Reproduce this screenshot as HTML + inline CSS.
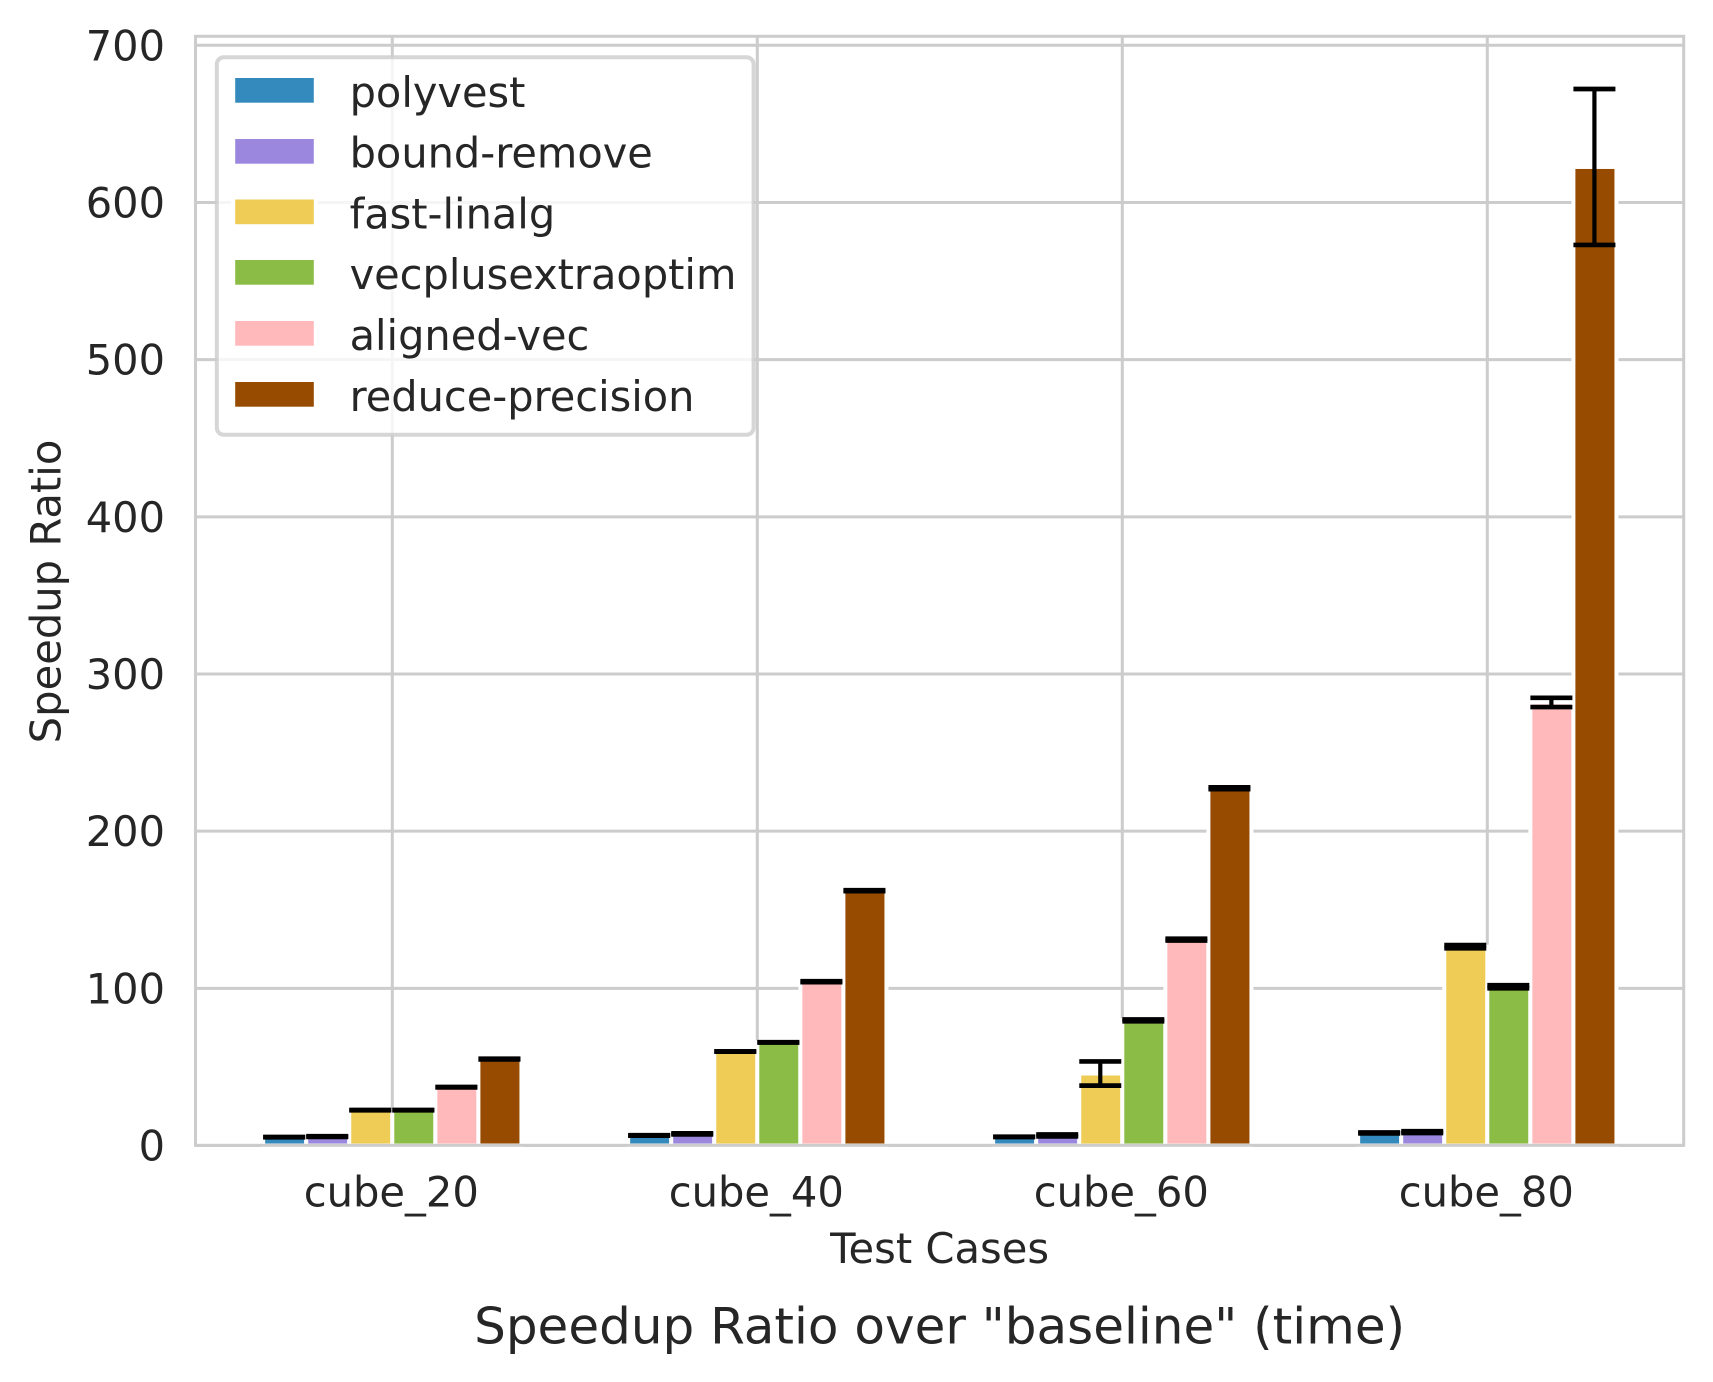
<!DOCTYPE html>
<html lang="en">
<head>
<meta charset="utf-8">
<title>Speedup Ratio over "baseline" (time)</title>
<style>
html,body{margin:0;padding:0;background:#fff;}
svg{display:block;}
text{font-family:"DejaVu Sans","Liberation Sans",sans-serif;fill:#262626;}
</style>
</head>
<body>
<svg id="chart" xmlns="http://www.w3.org/2000/svg" width="1713" height="1382" viewBox="0 0 1713 1382">
  <rect x="0" y="0" width="1713" height="1382" fill="#fff"/>
  <g id="grid"></g>
  <g id="bars"></g>
  <g id="errors"></g>
  <g id="spines" stroke="#cccccc" stroke-width="3" fill="none">
    <rect x="195.5" y="36.3" width="1488.2" height="1109"/>
  </g>
  <g id="yticks"></g>
  <g id="xticks"></g>

  <text transform="translate(60.7,591.5) rotate(-90)" text-anchor="middle" font-size="41.67">Speedup Ratio</text>
  <text x="939.6" y="1263.2" text-anchor="middle" font-size="41.67">Test Cases</text>
  <text x="939.6" y="1343.5" text-anchor="middle" font-size="50">Speedup Ratio over "baseline" (time)</text>

  <g>
    <rect x="216.8" y="57.3" width="536.8" height="377.4" rx="7" ry="7" fill="#fff" fill-opacity="0.8" stroke="#cccccc" stroke-opacity="0.8" stroke-width="4"/>
    <g>
      <rect x="233.2" y="76" width="82.6" height="28.7" fill="#348ABD" stroke="#fff" stroke-width="4"/>
      <text x="349.6" y="107" font-size="41.5">polyvest</text>
    </g>
    <g>
      <rect x="233.2" y="137" width="82.6" height="28.7" fill="#9B88DE" stroke="#fff" stroke-width="4"/>
      <text x="349.6" y="167.3" font-size="41.5">bound-remove</text>
    </g>
    <g>
      <rect x="233.2" y="197.5" width="82.6" height="28.7" fill="#EECC55" stroke="#fff" stroke-width="4"/>
      <text x="349.6" y="228.3" font-size="41.5">fast-linalg</text>
    </g>
    <g>
      <rect x="233.2" y="258" width="82.6" height="28.7" fill="#8BBC45" stroke="#fff" stroke-width="4"/>
      <text x="349.6" y="289" font-size="41.5">vecplusextraoptim</text>
    </g>
    <g>
      <rect x="233.2" y="319" width="82.6" height="28.7" fill="#FFB9BB" stroke="#fff" stroke-width="4"/>
      <text x="349.6" y="350" font-size="41.5">aligned-vec</text>
    </g>
    <g>
      <rect x="233.2" y="380" width="82.6" height="28.7" fill="#964B00" stroke="#fff" stroke-width="4"/>
      <text x="349.6" y="411" font-size="41.5">reduce-precision</text>
    </g>
  </g>
</svg>
<script>
const categories = ["cube_20", "cube_40", "cube_60", "cube_80"];
const yTicks = [0, 100, 200, 300, 400, 500, 600, 700];
const seriesNames = ["polyvest", "bound-remove", "fast-linalg", "vecplusextraoptim", "aligned-vec", "reduce-precision"];
const seriesColors = ["#348ABD", "#9B88DE", "#EECC55", "#8BBC45", "#FFB9BB", "#964B00"];

const polyvest = [5.3, 6.4, 5.5, 8.0];
const boundRemove = [5.7, 7.4, 6.4, 8.5];
const fastLinalg = [22.5, 59.8, 45.8, 126.5];
const vecplusextraoptim = [22.5, 65.6, 79.6, 101.0];
const alignedVec = [37.1, 104.2, 131.0, 281.9];
const reducePrecision = [55.0, 162.1, 227.3, 622.6];

const polyvestErr = [0.1, 0.1, 0.1, 0.3];
const boundRemoveErr = [0.2, 0.3, 0.6, 0.6];
const fastLinalgErr = [0.1, 0.1, 7.7, 1.0];
const vecplusextraoptimErr = [0.1, 0.1, 0.6, 1.0];
const alignedVecErr = [0.1, 0.3, 0.6, 2.95];
const reducePrecisionErr = [0.2, 0.3, 0.6, 49.6];

const allValues = [polyvest, boundRemove, fastLinalg, vecplusextraoptim, alignedVec, reducePrecision];
const allErrors = [polyvestErr, boundRemoveErr, fastLinalgErr, vecplusextraoptimErr, alignedVecErr, reducePrecisionErr];

const NS = "http://www.w3.org/2000/svg";
const plotLeft = 195.5, plotRight = 1683.7, plotTop = 36.3, plotBottom = 1145.3;
function xScale(i) { return 392.3 + 365 * i; }
function yScale(v) { return 1145.5 - v * 1.5717; }
const barStep = 43.05;
function make(tag, attrs) {
  const el = document.createElementNS(NS, tag);
  for (const k in attrs) el.setAttribute(k, attrs[k]);
  return el;
}

const gridG = document.getElementById("grid");
const yTickG = document.getElementById("yticks");
const xTickG = document.getElementById("xticks");
const barsG = document.getElementById("bars");
const errG = document.getElementById("errors");

yTicks.forEach(function (t) {
  const y = yScale(t);
  const line = make("line", {x1: plotLeft, x2: plotRight, y1: y, y2: y, stroke: "#cccccc", "stroke-width": 3});
  
  
  gridG.appendChild(line);
  const label = make("text", {x: 165, y: y + 15, "text-anchor": "end", "font-size": 41.5});
  
  
  label.textContent = String(t);
  yTickG.appendChild(label);
});

categories.forEach(function (c, i) {
  const x = xScale(i);
  const line = make("line", {x1: x, x2: x, y1: plotTop, y2: plotBottom, stroke: "#cccccc", "stroke-width": 3});
  
  
  gridG.appendChild(line);
  const label = make("text", {x: x - 1, y: 1206.7, "text-anchor": "middle", "font-size": 41.67});
  
  
  label.textContent = c;
  xTickG.appendChild(label);
});

seriesNames.forEach(function (name, s) {
  categories.forEach(function (c, i) {
    const v = allValues[s][i];
    const e = allErrors[s][i];
    const cx = xScale(i) + (s - 2.5) * barStep;
    const top = yScale(v);
    const bar = make("rect", {x: cx - barStep / 2, y: top, width: barStep, height: yScale(0) - top, fill: seriesColors[s], stroke: "#fff", "stroke-width": 4});
    
    
    barsG.appendChild(bar);

    const g = make("g", {stroke: "#000"});
    
    
    const yHi = yScale(v + e), yLo = yScale(v - e);
    const stem = make("line", {x1: cx - 0.5, x2: cx - 0.5, y1: yHi, y2: yLo, "stroke-width": 4.2});
    
    
    g.appendChild(stem);
    const capTop = make("line", {x1: cx - 21.5, x2: cx + 20.5, y1: yHi, y2: yHi, "stroke-width": 4.7});
    
    
    g.appendChild(capTop);
    const capBottom = make("line", {x1: cx - 21.5, x2: cx + 20.5, y1: yLo, y2: yLo, "stroke-width": 4.7});
    
    
    g.appendChild(capBottom);
    errG.appendChild(g);
  });
});
</script>
</body>
</html>
